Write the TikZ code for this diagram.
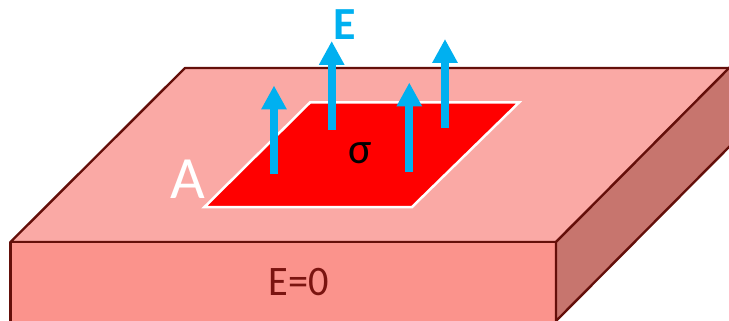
\documentclass[tikz,border=0pt]{standalone}
\usepackage{fontspec}
\setmainfont{Carlito}
\usetikzlibrary{arrows.meta}
\definecolor{topc}{HTML}{FAA9A5}
\definecolor{frontc}{HTML}{FB938C}
\definecolor{sidec}{HTML}{C7756E}
\definecolor{edgec}{HTML}{640F0A}
\definecolor{textc}{HTML}{7A1410}
\definecolor{fieldc}{HTML}{00B0F0}
\tikzset{
  face/.style={draw=edgec,line width=2.4pt,line join=round},
  field/.style={draw=fieldc,line width=8pt,-{Triangle[length=24pt,width=24pt]}},
}
\begin{document}
\begin{tikzpicture}[x=1pt,y=-1pt]
\useasboundingbox (0,0) rectangle (729,321);
\clip (0,0) rectangle (729,321);
\fill[white] (0,0) rectangle (729,321);
\filldraw[face,fill=topc] (10.5,242) -- (185,68) -- (732,68) -- (556,242) -- cycle;
\filldraw[face,fill=frontc] (10.5,242) -- (556,242) -- (556,322) -- (10.5,322) -- cycle;
\filldraw[face,fill=sidec] (556,242) -- (732,65) -- (732,144) -- (556,321) -- cycle;
\filldraw[draw=white,fill=red,line width=2.5pt,line join=miter] (204.5,207) -- (412,207) -- (519,102.5) -- (310,102.5) -- cycle;
\coordinate (a1s) at (274,174); \coordinate (a1e) at (274,85.5);
\coordinate (a2s) at (331.7,129.5); \coordinate (a2e) at (331.7,41);
\coordinate (a3s) at (409.3,171.5); \coordinate (a3e) at (409.3,82.5);
\coordinate (a4s) at (445,127.5); \coordinate (a4e) at (445,39);
\draw[field] (a1s) -- (a1e);
\draw[field] (a2s) -- (a2e);
\draw[field] (a3s) -- (a3e);
\draw[field] (a4s) -- (a4e);
\node[inner sep=0pt,text=fieldc,font=\fontsize{46}{46}\selectfont\bfseries] (fieldlabel) at (345,25) {E};
\node[inner sep=0pt,text=black,font=\fontsize{44}{44}\selectfont] (sigma) at (360.5,153) {σ};
\node[inner sep=0pt,text=white,font=\fontsize{60}{60}\selectfont] (alabel) at (187.5,179) {A};
\node[inner sep=0pt,text=textc,xscale=.96,font=\fontsize{42}{42}\selectfont] (inside) at (299,282) {E=0};
\end{tikzpicture}
\end{document}
